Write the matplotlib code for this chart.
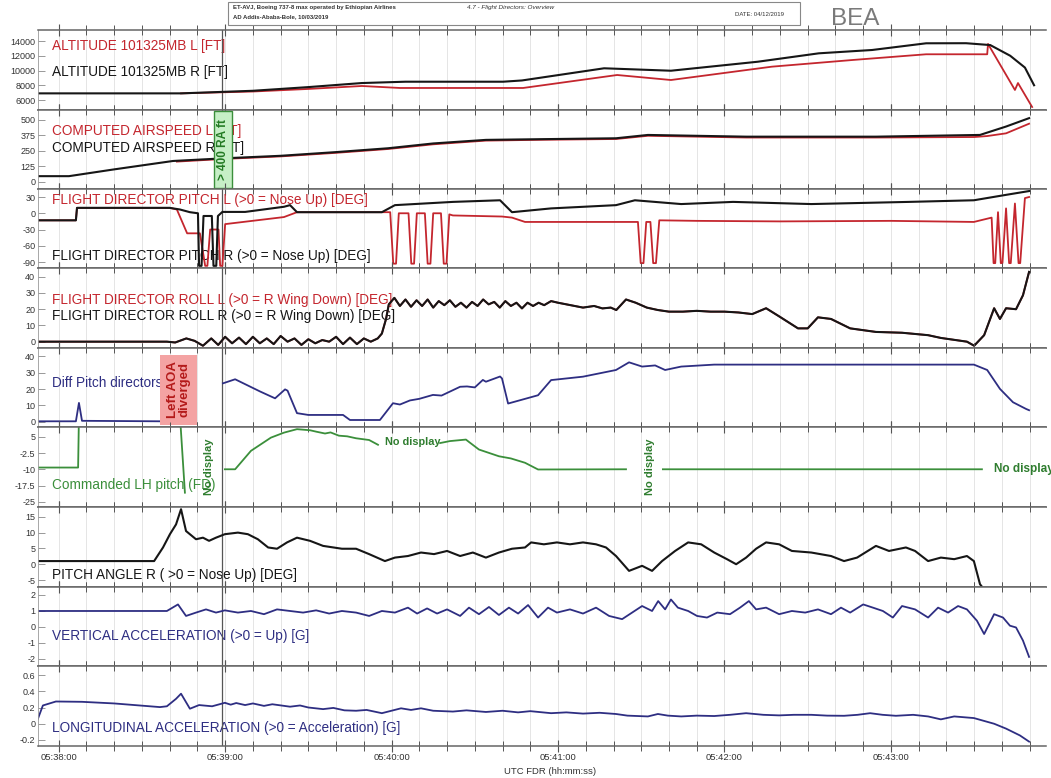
import numpy as np
import matplotlib
matplotlib.use('Agg')
from matplotlib import pyplot as plt
from matplotlib.patches import Rectangle
from matplotlib.ticker import MultipleLocator
import matplotlib.transforms as mtransforms

plt.rcParams['font.family'] = ['Liberation Sans', 'DejaVu Sans']

nan = np.nan
# time in seconds after 05:38:00
time_ticks = [0, 60, 120, 180, 240, 300]
time_labels = ['05:38:00', '05:39:00', '05:40:00', '05:41:00', '05:42:00', '05:43:00']

alt_r_pts = [(-7.8, 6900), (44.1, 6900), (70, 7250), (90, 7750), (109.3, 8300), (125, 8480), (160.2, 8480),
             (167, 8650), (196.6, 10300), (220.7, 9970), (252, 11190), (274, 12330), (293.2, 12780),
             (312.7, 13690), (327.1, 13700), (335.8, 13450), (343, 12000), (348.3, 10400), (351.6, 8000)]
alt_l_pts = [(44.1, 6900), (70, 7150), (90, 7500), (109.3, 7900), (123, 7630), (167.4, 7630), (201.3, 9390),
             (220.7, 8710), (257.1, 10520), (286, 11420), (312.7, 12200), (334.7, 12200), (335.0, 13600),
             (344.7, 7360), (345.8, 8300), (350.9, 5050)]

ias_r_pts = [(-7.8, 45), (3.7, 45), (20, 100), (41.2, 168), (59.9, 190), (80, 210), (100, 240), (118.7, 271),
             (135, 310), (154, 339), (175, 345), (200.9, 352), (212.4, 379), (247.8, 365), (294.6, 365),
             (332.1, 379), (341.5, 447), (349.8, 515)]
ias_l_pts = [(42.6, 163), (59.9, 185), (80, 205), (100, 234), (118.7, 265), (135, 303), (154, 333), (175, 340),
             (200.9, 346), (212.4, 372), (247.8, 358), (294.6, 358), (330, 362), (334.7, 370), (341.5, 392),
             (349.8, 470)]

fdp_r_pts = [(-7.8, -13), (6.2, -13), (6.6, 10), (40, 10), (43.7, 7), (47.3, 2), (50.2, 0), (50.6, -97),
             (51.5, -97), (52.2, -5), (55.2, -5), (55.8, -97), (56.8, -97), (57.4, -5), (59, 2.5), (67.2, 2.5),
             (81.2, 12), (83.4, 15), (85.9, 2), (116.5, 2), (121.2, 15), (142.1, 21), (159.1, 24), (163.4, 2),
             (177.5, 9), (200.9, 15), (207.7, 24), (224.4, 17), (243.1, 21), (271.3, 17), (306.5, 21),
             (329.9, 24), (341.5, 34), (349.8, 41)]
fdp_l_pts = [(-7.8, -13), (6.2, -13), (6.6, 10), (40, 10), (42.6, 7), (46.3, -37), (50.9, -37), (52.8, -97),
             (53.6, -97), (54.6, -30), (57.6, -30), (58.2, -97), (59.0, -97), (60.0, -20), (81.2, -7), (85.9, 2),
             (119.5, 2), (120.6, -93), (121.6, -93), (122.6, 0), (126.1, 0), (127.1, -93), (128.1, -93),
             (129.1, 0), (132.0, 0), (133.0, -93), (134.0, -93), (135.0, 0), (137.8, 0), (138.8, -93),
             (139.8, -93), (140.8, -2), (142.1, -4), (159.8, -6), (163.4, -8), (168.1, -16), (208.8, -16),
             (209.8, -92), (210.8, -92), (211.8, -16), (213.3, -16), (214.3, -92), (215.3, -92), (216.5, -13),
             (230, -14), (260, -15), (300, -14), (329.9, -16), (334.7, -10), (336.3, -8), (337.0, -92),
             (337.6, -92), (338.6, 2), (339.6, -92), (340.2, -92), (341.5, 9), (342.6, -92), (343.2, -92),
             (344.7, 18), (346.0, -92), (346.6, -92), (348.3, 28), (349.8, 30)]

roll_r_pts = [(-7.8, 0), (39, 0), (42, -0.5), (46, 2), (49, 0.5), (52, -2.5), (55, 2), (57.5, -2), (60, 3),
              (62.5, -1), (65, 2.5), (67.5, -1.5), (70, 3), (72.5, -1), (75, 2), (77.5, -1.5), (80, 3.5),
              (82.5, 0), (85, 2), (87.5, -2), (90, 1.5), (92.5, -1), (95, 1), (97.5, 0), (100, 3),
              (102.5, -1.5), (105, 2.5), (107.5, -1.5), (110, 2), (112.5, 0), (115, 2), (116.5, 5), (118, 14),
              (119, 23), (121, 27), (123, 22), (125, 26), (127, 21.5), (129, 25.5), (131, 22), (133, 26),
              (135, 21), (137, 25), (139, 22.5), (141, 25.5), (143, 21.5), (145, 24), (147, 21), (149, 24.5),
              (151, 22), (153, 26), (155, 23), (157, 24.5), (159, 21), (161, 25), (163, 22), (165, 24),
              (167, 20.5), (169, 24), (171, 22), (173, 24), (175, 22.5), (177.5, 25), (180, 24), (183, 23),
              (186, 22), (189, 21), (193, 22), (196, 20.5), (199, 21), (201, 19.5), (204.5, 26), (208, 24),
              (212, 21), (216, 19.5), (220, 18.5), (225, 18.5), (230, 19), (235, 18.5), (240, 18.5), (245, 18),
              (250, 17), (255, 20.6), (259.7, 15.6), (266.5, 8.2), (270, 8.2), (273.7, 15), (278.4, 14),
              (285.3, 8.2), (294.6, 6), (304, 5.5), (313.4, 4), (318, 2.3), (327.4, 0), (330, -2.5),
              (333.6, 4), (337.2, 20.6), (339.3, 14), (341.5, 20.6), (345.1, 20), (347.6, 28.6), (349.8, 43)]
roll_l_pts = roll_r_pts  # L and R directors overlap

diff_pts = [(-7.8, 0.2), (6.2, 0.2), (7.3, 11.5), (8.4, 0.5), (36.5, 0.2), (36.6, nan), (59.2, 23.5),
            (63.6, 26), (72.6, 18.5), (78, 14.3), (81.6, 19.8), (82.5, 19), (85.9, 5.2), (90, 4.1),
            (102.5, 4.1), (105, 1), (115.8, 1), (120.5, 11.3), (123, 10.5), (126.6, 13), (130, 14),
            (134.9, 16.4), (138, 16), (141.1, 18.5), (144.7, 21.4), (147.2, 21.6), (150, 21), (152.9, 25.6),
            (154, 24.5), (159.1, 27.7), (159.8, 26.5), (162, 11.1), (172.8, 16.2), (177.5, 25.5), (189, 27.6),
            (200.9, 31.7), (205.6, 36.4), (210.3, 33.8), (215, 34.5), (218.6, 31.7), (224.4, 33.8),
            (236.3, 35), (329.9, 35), (334.7, 31.7), (339.3, 20.1), (344, 11.9), (348.7, 7.8), (349.8, 7)]

cmd_pts = [(-7.8, -9.2), (7.0, -9.2), (7.3, 15), (43.7, 15), (45.5, -20.8), (45.6, nan),
           (59.9, -10), (63.6, -10), (69.3, -1.5), (76.5, 4.6), (81.2, 6.9), (85.9, 8.5), (90.6, 8),
           (93, 7.3), (96, 6.5), (98, 7), (101, 5.5), (104, 5.2), (107.2, 4.3), (111.9, 3.5), (115.1, 1.3),
           (115.2, nan), (137.5, 2.1), (141, 3), (146.8, 3.7), (148, 2.5), (151.5, -0.9), (158.7, -4),
           (163, -5), (168.1, -7), (172.8, -10.1), (204.5, -10), (204.6, nan), (217.8, -10), (332.8, -10)]

pitch_pts = [(-7.8, 1.0), (34.4, 1.0), (37.6, 5.3), (40.1, 9.5), (42.3, 12.6), (44.1, 17.4), (45.9, 10.5),
             (49.5, 7.9), (52, 8.4), (54.2, 7.4), (56.7, 8.4), (59.9, 9.5), (64.6, 10), (68.2, 9.5),
             (71.8, 7.9), (75.5, 5.3), (78.7, 4.9), (82.3, 6.9), (85.9, 8.4), (90.6, 7.4), (95.3, 5.8),
             (102.1, 4.9), (107.2, 4.9), (111.9, 3.2), (117.6, 1.0), (121.2, 2.1), (125.9, 2.6), (130.6, 3.7),
             (135.3, 3.2), (140, 4.2), (144.7, 2.6), (149.3, 3.7), (154, 2.1), (158.7, 3.7), (163.4, 4.9),
             (168.1, 5.3), (170.3, 6.9), (174.9, 6.3), (179.6, 6.9), (184.3, 6.3), (189, 6.9), (193.7, 6.3),
             (197.3, 5.3), (200.9, 2.6), (205.6, -2.1), (210.3, -0.5), (213.9, -2.1), (217.5, 1.0),
             (222.2, 4.2), (226.9, 6.9), (231.6, 6.3), (236.3, 3.7), (240.9, 1.6), (244.2, 0), (247.8, 2.1),
             (251.4, 4.9), (255, 6.9), (259.7, 6.3), (264.3, 4.2), (271.3, 3.7), (278.4, 2.6), (283.1, 1.0),
             (287.8, 2.1), (294.6, 5.8), (299.3, 4.2), (305.4, 5.3), (308.7, 4.2), (313.4, 1.0), (318, 2.1),
             (322.8, 1.6), (327.4, 2.6), (329.9, 1.0), (332.1, -6.3), (333.6, -8)]

vacc_pts = [(-7.8, 1.0), (39, 1.0), (43, 1.41), (45.9, 0.69), (49.5, 0.90), (53.1, 1.10), (56.7, 0.90),
            (59.9, 1.04), (64.6, 0.90), (69.3, 1.0), (74, 0.80), (78.7, 1.10), (83.4, 1.0), (88.1, 0.90),
            (92.8, 1.04), (97.5, 0.84), (102.1, 1.0), (107.2, 0.90), (111.9, 0.69), (116.5, 1.0),
            (121.2, 0.90), (125.9, 1.21), (129.2, 0.84), (132.8, 1.16), (136.4, 0.84), (140, 1.10),
            (144.7, 0.69), (147.9, 1.21), (151.5, 0.80), (155.1, 1.25), (158.7, 0.75), (162.3, 1.21),
            (165.6, 0.84), (169.2, 1.37), (172.8, 0.59), (176.4, 1.21), (179.6, 0.90), (184.3, 1.10),
            (189, 0.84), (193.7, 1.21), (198.4, 0.69), (203.1, 0.49), (206.7, 0.90), (210.3, 1.31),
            (213.9, 1.0), (216.1, 1.62), (218.6, 1.10), (220.7, 1.72), (223.2, 1.21), (226.9, 1.0),
            (230.1, 0.69), (233.7, 0.59), (237.4, 0.90), (242, 0.80), (245.6, 1.21), (248.8, 1.62),
            (251.4, 1.10), (255, 1.21), (259.7, 0.80), (264.3, 1.0), (269.1, 0.90), (273.7, 1.10),
            (278.4, 0.80), (282, 1.21), (285.3, 0.90), (290, 1.41), (293.5, 1.21), (297.1, 1.0),
            (300.7, 0.59), (304, 1.31), (308.7, 1.10), (313.4, 0.59), (317, 1.21), (320.6, 0.90),
            (324.2, 1.31), (327.4, 1.10), (331, 0.39), (333.6, -0.44), (337.2, 0.80), (340.4, 0.59),
            (342.9, 0.08), (345.1, -0.03), (347.6, -0.85), (349.8, -1.87)]

lacc_pts = [(-7.5, 0.06), (-5.7, 0.225), (-1, 0.274), (8.4, 0.27), (20, 0.25), (36.5, 0.205), (39, 0.215),
            (42.3, 0.307), (44.1, 0.37), (47.3, 0.185), (50.6, 0.23), (55.3, 0.215), (59.9, 0.258),
            (62, 0.235), (64, 0.255), (67.2, 0.23), (70, 0.25), (74, 0.22), (77, 0.24), (83.4, 0.21),
            (87, 0.225), (90, 0.2), (95.3, 0.18), (99, 0.195), (103, 0.165), (107.2, 0.16), (111, 0.17),
            (116.5, 0.13), (123.4, 0.19), (127, 0.17), (130.6, 0.19), (135, 0.16), (142.1, 0.15),
            (147, 0.165), (154, 0.145), (160, 0.16), (165.6, 0.14), (170, 0.155), (177.5, 0.13), (183, 0.14),
            (189, 0.125), (195, 0.135), (200.9, 0.12), (205, 0.1), (212.4, 0.09), (216, 0.12), (219.6, 0.1),
            (224.4, 0.09), (230, 0.1), (236.3, 0.095), (242, 0.11), (247.8, 0.13), (254, 0.11),
            (259.7, 0.103), (265, 0.11), (271.3, 0.11), (277, 0.1), (283.1, 0.098), (288, 0.11),
            (292.5, 0.13), (297, 0.11), (301.8, 0.098), (308, 0.11), (313.4, 0.09), (318, 0.054),
            (322.8, 0.09), (329.9, 0.07), (337.2, 0.0), (341.5, -0.06), (346.5, -0.144), (349.8, -0.22)]

# panel y scales and tick labels
ylims = [(4644, 15492), (-59, 581), (-101, 44.8), (-3.9, 45.4), (-3.3, 45.2),
         (-27.4, 9.5), (-7.2, 18.1), (-2.44, 2.5), (-0.274, 0.711)]
yticks = [[6000, 8000, 10000, 12000, 14000], [0, 125, 250, 375, 500], [-90, -60, -30, 0, 30],
          [0, 10, 20, 30, 40], [0, 10, 20, 30, 40], [-25, -17.5, -10, -2.5, 5], [-5, 0, 5, 10, 15],
          [-2, -1, 0, 1, 2], [-0.2, 0, 0.2, 0.4, 0.6]]
ytlabels = [['6000', '8000', '10000', '12000', '14000'], ['0', '125', '250', '375', '500'],
            ['-90', '-60', '-30', '0', '30'], ['0', '10', '20', '30', '40'], ['0', '10', '20', '30', '40'],
            ['-25', '-17.5', '-10', '-2.5', '5'], ['-5', '0', '5', '10', '15'], ['-2', '-1', '0', '1', '2'],
            ['-0.2', '0', '0.2', '0.4', '0.6']]

RED = '#c4262e'
BLACK = '#161616'
NAVY = '#2e2e82'
GREEN = '#3b8f3b'

W, H = 1051, 778
fig = plt.figure(figsize=(W / 100, H / 100), dpi=100)
edges = [30, 110, 189, 268, 348, 427, 507, 587, 666, 746]
left_px, right_px = 38, 1046
XMIN, XMAX = -7.46, 355.9


def xy(pts):
    a = np.array(pts, dtype=float)
    return a[:, 0], a[:, 1]


axes = []
for i in range(9):
    top, bot = edges[i], edges[i + 1]
    ax = fig.add_axes([left_px / W, 1 - bot / H, (right_px - left_px) / W, (bot - top) / H])
    ax.set_xlim(XMIN, XMAX)
    ax.set_ylim(*ylims[i])
    ax.set_yticks(yticks[i])
    ax.set_yticklabels(ytlabels[i])
    ax.xaxis.set_major_locator(MultipleLocator(60))
    ax.xaxis.set_minor_locator(MultipleLocator(10))
    ax.tick_params(axis='x', which='both', direction='inout', top=True, bottom=True,
                   labelbottom=False, color='#555555')
    ax.tick_params(axis='x', which='major', length=9, width=0.8)
    ax.tick_params(axis='x', which='minor', length=7, width=0.7)
    ax.tick_params(axis='y', direction='in', length=5, width=0.6, color='#888888',
                   labelsize=6.5, labelcolor='#333333', pad=2)
    ax.set_axisbelow(True)
    ax.grid(axis='x', which='both', color='#dadada', lw=0.5)
    for s in ['top', 'bottom']:
        ax.spines[s].set_color('#666666')
        ax.spines[s].set_linewidth(1.1)
    ax.spines['left'].set_color('#999999')
    ax.spines['left'].set_linewidth(0.6)
    ax.spines['right'].set_visible(False)
    ax.axvline(59, color='#555555', lw=0.9, zorder=1.8)
    axes.append(ax)

last = axes[-1]
last.set_xticks(time_ticks)
last.set_xticklabels(time_labels)
last.tick_params(axis='x', which='major', labelbottom=True, labelsize=6.8, labelcolor='#333333', pad=0.5)
fig.text(550 / W, 1 - 771 / H, 'UTC FDR (hh:mm:ss)', fontsize=6.8, color='#333333', ha='center', va='center')


def label(ax, yfrac, txt, color):
    ax.text(0.0139, yfrac, txt, transform=ax.transAxes, color=color, fontsize=9.8,
            va='center', ha='left', zorder=1.5)


lw = 1.5
# altitude
ax = axes[0]
ax.plot(*xy(alt_l_pts), color=RED, lw=1.3)
ax.plot(*xy(alt_r_pts), color=BLACK, lw=lw)
label(ax, 0.80, 'ALTITUDE 101325MB L [FT]', RED)
label(ax, 0.475, 'ALTITUDE 101325MB R [FT]', BLACK)

# airspeed
ax = axes[1]
ax.plot(*xy(ias_l_pts), color=RED, lw=1.3)
ax.plot(*xy(ias_r_pts), color=BLACK, lw=lw)
label(ax, 0.734, 'COMPUTED AIRSPEED L [KT]', RED)
label(ax, 0.52, 'COMPUTED AIRSPEED R [KT]', BLACK)
tr = mtransforms.blended_transform_factory(ax.transData, ax.transAxes)
ax.add_patch(Rectangle((56.0, 0.01), 6.5, 0.98, transform=tr, facecolor='#c6efc6',
                       edgecolor=GREEN, lw=1.0, zorder=5, clip_on=False))
ax.text(59.25, 0.5, '> 400 RA ft', transform=tr, rotation=90, ha='center', va='center',
        color='#237a23', fontsize=8.5, fontweight='bold', zorder=6)

# flight director pitch
ax = axes[2]
ax.plot(*xy(fdp_l_pts), color=RED, lw=1.3)
ax.plot(*xy(fdp_r_pts), color=BLACK, lw=lw)
label(ax, 0.86, 'FLIGHT DIRECTOR PITCH L (>0 = Nose Up) [DEG]', RED)
label(ax, 0.15, 'FLIGHT DIRECTOR PITCH R (>0 = Nose Up) [DEG]', BLACK)

# flight director roll
ax = axes[3]
ax.plot(*xy(roll_l_pts), color=RED, lw=1.3)
ax.plot(*xy(roll_r_pts), color=BLACK, lw=lw)
label(ax, 0.60, 'FLIGHT DIRECTOR ROLL L (>0 = R Wing Down) [DEG]', RED)
label(ax, 0.40, 'FLIGHT DIRECTOR ROLL R (>0 = R Wing Down) [DEG]', BLACK)

# diff pitch directors
ax = axes[4]
ax.plot(*xy(diff_pts), color=NAVY, lw=1.3)
label(ax, 0.557, 'Diff Pitch directors', NAVY)
tr = mtransforms.blended_transform_factory(ax.transData, ax.transAxes)
ax.add_patch(Rectangle((36.6, 0.025), 13.3, 0.885, transform=tr, facecolor='#f4a3a3',
                       edgecolor='none', zorder=5))
ax.text(43.25, 0.47, 'Left AOA\ndiverged', transform=tr, rotation=90, ha='center', va='center',
        color='#b41a1a', fontsize=9.5, fontweight='bold', zorder=6, linespacing=1.0)

# commanded LH pitch
ax = axes[5]
ax.plot(*xy(cmd_pts), color=GREEN, lw=1.3)
label(ax, 0.275, 'Commanded LH pitch (FD)', GREEN)
tr = mtransforms.blended_transform_factory(ax.transData, ax.transAxes)
nd = dict(color='#2f7d2f', fontweight='bold', zorder=6)
ax.text(54.2, 0.5, 'No display', transform=tr, rotation=90, ha='center', va='center', fontsize=8, **nd)
ax.text(213.2, 0.5, 'No display', transform=tr, rotation=90, ha='center', va='center', fontsize=8, **nd)
ax.text(117.5, 2.5, 'No display', ha='left', va='center', fontsize=7.8, **nd)
ax.text(337.0, -10, 'No display', ha='left', va='center', clip_on=False, fontsize=8.5, **nd)

# pitch angle
ax = axes[6]
ax.plot(*xy(pitch_pts), color=BLACK, lw=lw)
label(ax, 0.15, 'PITCH ANGLE R ( >0 = Nose Up) [DEG]', BLACK)

# vertical acceleration
ax = axes[7]
ax.plot(*xy(vacc_pts), color=NAVY, lw=1.3)
label(ax, 0.38, 'VERTICAL ACCELERATION (>0 = Up) [G]', NAVY)

# longitudinal acceleration
ax = axes[8]
ax.plot(*xy(lacc_pts), color=NAVY, lw=1.3)
label(ax, 0.225, 'LONGITUDINAL ACCELERATION (>0 = Acceleration) [G]', NAVY)

# header box
fig.patches.append(Rectangle((228 / W, 1 - 25 / H), (800 - 228) / W, 23 / H, transform=fig.transFigure,
                             facecolor='white', edgecolor='#888888', lw=0.8))
fig.text(233 / W, 1 - 8 / H, 'ET-AVJ, Boeing 737-8 max operated by Ethiopian Airlines', fontsize=4.3,
         fontweight='bold', color='#333333', va='center')
fig.text(233 / W, 1 - 17 / H, 'AD Addis-Ababa-Bole, 10/03/2019', fontsize=4.3,
         fontweight='bold', color='#333333', va='center')
fig.text(467 / W, 1 - 8 / H, '4.7 - Flight Directors: Overview', fontsize=4.6, style='italic',
         color='#333333', va='center')
fig.text(735 / W, 1 - 15 / H, 'DATE: 04/12/2019', fontsize=4.3, color='#333333', va='center')
fig.text(831 / W, 1 - 19 / H, 'BEA', fontsize=17.5, color='#7a7a7a', va='center')

fig.savefig('out.png', dpi=100)
